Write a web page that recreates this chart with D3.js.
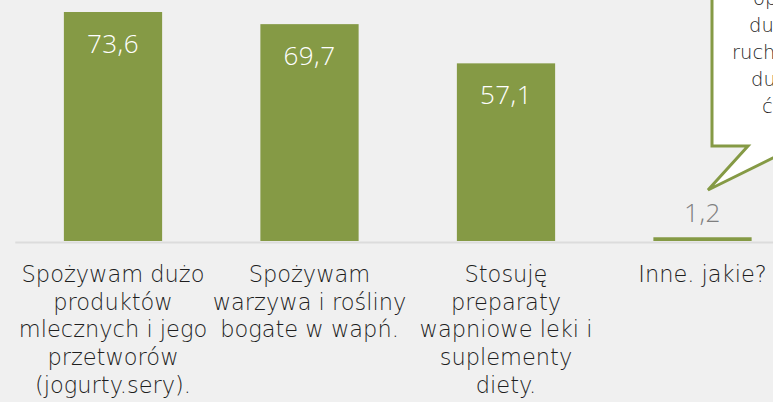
<!DOCTYPE html>
<html>
<head>
<meta charset="utf-8">
<script src="https://cdn.jsdelivr.net/npm/d3@7"></script>
<style>
  html, body { margin: 0; padding: 0; background: #f0f0f0; }
  svg { display: block; }
</style>
</head>
<body>
<div id="chart"></div>
<script>
const categories = [
  "Spożywam dużo produktów mlecznych i jego przetworów (jogurty.sery).",
  "Spożywam warzywa i rośliny bogate w wapń.",
  "Stosuję preparaty wapniowe leki i suplementy diety.",
  "Inne. jakie?"
];
const labelLines = [
  ["Spożywam dużo", "produktów", "mlecznych i jego", "przetworów", "(jogurty.sery)."],
  ["Spożywam", "warzywa i rośliny", "bogate w wapń."],
  ["Stosuję", "preparaty", "wapniowe leki i", "suplementy", "diety."],
  ["Inne. jakie?"]
];
const values = [73.6, 69.7, 57.1, 1.2];
const valueLabels = ["73,6", "69,7", "57,1", "1,2"];
const calloutLines = ["op", "du", "ruch", "du", "ć"];

const W = 773, H = 402;
const svg = d3.select("#chart").append("svg").attr("width", W).attr("height", H);
svg.append("rect").attr("width", W).attr("height", H).attr("fill", "#f0f0f0");

const font = "'Open Sans', sans-serif";
const labelFont = "'DejaVu Sans', sans-serif";
const green = "#859a45";

const x = d3.scaleBand().domain(categories).range([14.75, 800.75]).paddingInner(0.5).paddingOuter(0.25);
const y = d3.scaleLinear().domain([0, 80]).range([241, -7.9]);

// axis baseline
const axis = d3.axisBottom(x).tickSize(0).tickFormat("");
const ag = svg.append("g").attr("transform", `translate(0,${y(0) + 1})`).call(axis);
ag.select(".domain").attr("stroke", "#dcdcdc").attr("stroke-width", 2);

// bars
svg.selectAll("rect.bar").data(values).join("rect")
  .attr("class", "bar")
  .attr("x", (d, i) => x(categories[i]))
  .attr("width", x.bandwidth())
  .attr("y", d => y(d))
  .attr("height", d => y(0) - y(d))
  .attr("fill", green);

// value labels
svg.selectAll("text.val").data(values).join("text")
  .attr("class", "val")
  .attr("x", (d, i) => x(categories[i]) + x.bandwidth() / 2)
  .attr("y", d => d > 10 ? y(d) + 41 : y(d) - 15)
  .attr("text-anchor", "middle")
  .attr("font-family", font)
  .attr("font-weight", 300)
  .attr("font-size", 26)
  .attr("letter-spacing", 0.5)
  .attr("fill", d => d > 10 ? "#ffffff" : "#7f7f7f")
  .text((d, i) => valueLabels[i]);

// category labels
const lg = svg.selectAll("text.cat").data(labelLines).join("text")
  .attr("class", "cat")
  .attr("text-anchor", "middle")
  .attr("font-family", labelFont)
  .attr("font-weight", 200)
  .attr("font-size", 22.5)
  .attr("fill", "#1e1e1e");
lg.each(function(lines, i) {
  const cx = x(categories[i]) + x.bandwidth() / 2;
  d3.select(this).selectAll("tspan").data(lines).join("tspan")
    .attr("x", cx)
    .attr("y", (l, j) => 282 + j * 27.7)
    .text(l => l);
});

// callout
const callout = svg.append("g");
callout.append("path")
  .attr("d", "M712,-20 L712,146 L748,146 L708,190 L797,146 L830,146 L830,-20")
  .attr("fill", "#ffffff")
  .attr("stroke", green)
  .attr("stroke-width", 3)
  .attr("stroke-linejoin", "miter");
const cx0 = [753, 749, 732, 751, 762];
callout.selectAll("text").data(calloutLines).join("text")
  .attr("x", (d, i) => cx0[i])
  .attr("y", (d, i) => 5 + i * 27)
  .attr("font-family", labelFont)
  .attr("font-weight", 200)
  .attr("font-size", 19.5)
  .attr("fill", "#1e1e1e")
  .text(d => d);
</script>
</body>
</html>
